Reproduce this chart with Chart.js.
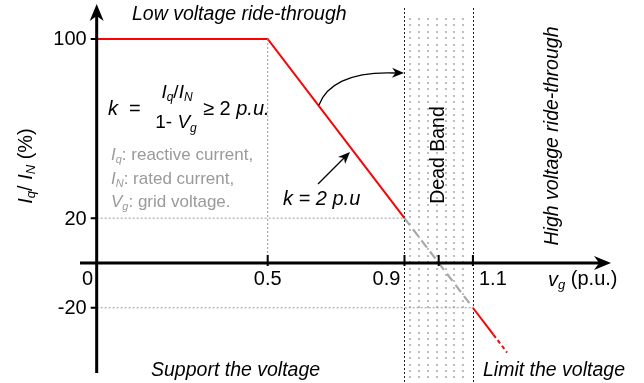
<!DOCTYPE html>
<html>
<head>
<meta charset="utf-8">
<script src="https://cdn.jsdelivr.net/npm/chart.js@4.4.1/dist/chart.umd.min.js"></script>
<style>
  html, body { margin: 0; padding: 0; background: #fff; }
  #wrap { width: 644px; height: 383px; position: relative; }
</style>
</head>
<body>
<div id="wrap"><canvas id="lvrt"></canvas></div>
<script>
/* ---- data ---- */
const supportX = [0, 0.5, 0.9];
const supportY = [100, 100, 20];
const deadBandX = [0.9, 1.1];
const deadBandY = [20, -20];
const limitX = [1.1, 1.16];
const limitY = [-20, -32];
const limitDashX = [1.16, 1.2];
const limitDashY = [-32, -40];
const xTicks = [0.5, 0.9, 1.0, 1.1];
const xTickLabels = ['0.5', '0.9', '', '1.1'];
const yTicks = [100, 20, -20];
const yTickLabels = ['100', '20', '-20'];
const bandEdges = [0.9, 1.1];

const FONT = '"Liberation Sans", Arial, sans-serif';
const pts = (xs, ys) => xs.map((x, i) => ({ x, y: ys[i] }));

/* rich text helper: parts = [{t, f, dy, c}] */
function richWidth(ctx, parts) {
  let w = 0;
  parts.forEach(p => { ctx.font = p.f; w += ctx.measureText(p.t).width; });
  return w;
}
function drawRich(ctx, x, y, parts, align) {
  let cx = x;
  if (align === 'center') cx = x - richWidth(ctx, parts) / 2;
  else if (align === 'right') cx = x - richWidth(ctx, parts);
  parts.forEach(p => {
    ctx.font = p.f;
    ctx.fillStyle = p.c || '#000';
    ctx.fillText(p.t, cx, y + (p.dy || 0));
    cx += ctx.measureText(p.t).width;
  });
}

function arrowHead(ctx, x, y, ang, len, half) {
  ctx.save();
  ctx.translate(x, y);
  ctx.rotate(ang);
  ctx.beginPath();
  ctx.moveTo(0, 0);
  ctx.lineTo(-len, -half);
  ctx.lineTo(-len * 0.7, 0);
  ctx.lineTo(-len, half);
  ctx.closePath();
  ctx.fill();
  ctx.restore();
}

/* dead band + axes + annotations */
const decorPlugin = {
  id: 'decor',
  beforeDatasetsDraw(chart) {
    const ctx = chart.ctx;
    const sx = chart.scales.x;
    const x0 = sx.getPixelForValue(bandEdges[0]);
    const x1 = sx.getPixelForValue(bandEdges[1]);
    const top = 8, bottom = chart.height;
    ctx.save();
    // dotted fill
    ctx.fillStyle = '#bdbdbd';
    let row = 0;
    for (let yy = top + 10; yy < bottom; yy += 6.4, row++) {
      for (let xx = x0 + 5; xx < x1 - 3; xx += 8.8) {
        ctx.fillRect(Math.round(xx), Math.round(yy), 2, 2);
      }
    }
    // edges
    ctx.strokeStyle = '#222';
    ctx.lineWidth = 1;
    ctx.setLineDash([2, 2]);
    [x0, x1].forEach(x => {
      ctx.beginPath();
      ctx.moveTo(Math.round(x) + 0.5, top);
      ctx.lineTo(Math.round(x) + 0.5, bottom);
      ctx.stroke();
    });
    ctx.setLineDash([]);
    ctx.restore();
  },
  afterDatasetsDraw(chart) {
    const ctx = chart.ctx;
    const sx = chart.scales.x, sy = chart.scales.y;
    const ox = sx.getPixelForValue(0), oy = sy.getPixelForValue(0);
    ctx.save();
    ctx.fillStyle = '#000';
    ctx.strokeStyle = '#000';

    // axes
    ctx.lineWidth = 3;
    ctx.beginPath();
    ctx.moveTo(80, oy); ctx.lineTo(604, oy);
    ctx.moveTo(ox, 373); ctx.lineTo(ox, 11);
    ctx.stroke();
    arrowHead(ctx, 611, oy, 0, 17, 7);
    arrowHead(ctx, ox, 4, -Math.PI / 2, 17, 7);

    // ticks
    ctx.lineWidth = 2;
    ctx.beginPath();
    xTicks.forEach(v => {
      const x = sx.getPixelForValue(v);
      ctx.moveTo(x, oy - 8); ctx.lineTo(x, oy + 3);
    });
    yTicks.forEach(v => {
      const y = sy.getPixelForValue(v);
      ctx.moveTo(ox - 6, y); ctx.lineTo(ox, y);
    });
    ctx.stroke();

    // tick labels
    ctx.textBaseline = 'middle';
    ctx.font = '20px ' + FONT;
    ctx.textAlign = 'right';
    yTicks.forEach((v, i) => ctx.fillText(yTickLabels[i], ox - 10, sy.getPixelForValue(v) + 1));
    ctx.textAlign = 'center';
    ctx.fillText('0', ox - 9, oy + 17);
    xTicks.forEach((v, i) => {
      let x = sx.getPixelForValue(v);
      if (v === 0.9) x -= 18;
      if (v === 1.1) x += 20;
      ctx.fillText(xTickLabels[i], x, oy + 17);
    });
    ctx.textAlign = 'left';
    drawRich(ctx, 548, oy + 17, [
      { t: 'v', f: 'italic 20px ' + FONT },
      { t: 'g', f: 'italic 13px ' + FONT, dy: 5 },
      { t: ' (p.u.)', f: '20px ' + FONT }
    ]);

    // y axis title
    ctx.save();
    ctx.translate(26, 166);
    ctx.rotate(-Math.PI / 2);
    drawRich(ctx, 0, 0, [
      { t: 'I', f: 'italic 20px ' + FONT },
      { t: 'q', f: 'italic 13px ' + FONT, dy: 5 },
      { t: '/ ', f: '20px ' + FONT },
      { t: 'I', f: 'italic 20px ' + FONT },
      { t: 'N', f: 'italic 13px ' + FONT, dy: 5 },
      { t: ' (%)', f: '20px ' + FONT }
    ], 'center');
    ctx.restore();

    // region titles
    ctx.font = 'italic 19.5px ' + FONT;
    ctx.textAlign = 'left';
    ctx.fillText('Low voltage ride-through', 132, 15);
    ctx.fillText('Support the voltage', 151, 371);
    ctx.fillText('Limit the voltage', 483, 371);
    ctx.save();
    ctx.translate(553, 136);
    ctx.rotate(-Math.PI / 2);
    ctx.textAlign = 'center';
    ctx.fillText('High voltage ride-through', 0, 0);
    ctx.restore();
    ctx.save();
    ctx.translate(439, 155);
    ctx.rotate(-Math.PI / 2);
    ctx.textAlign = 'center';
    ctx.font = '19.5px ' + FONT;
    ctx.fillText('Dead Band', 0, 0);
    ctx.restore();

    // formula
    ctx.textAlign = 'left';
    drawRich(ctx, 108, 109, [
      { t: 'k', f: 'italic 20px ' + FONT },
      { t: '  =', f: '20px ' + FONT }
    ]);
    drawRich(ctx, 177, 93, [
      { t: 'I', f: 'italic 19px ' + FONT },
      { t: 'q', f: 'italic 12px ' + FONT, dy: 5 },
      { t: '/', f: '19px ' + FONT },
      { t: 'I', f: 'italic 19px ' + FONT },
      { t: 'N', f: 'italic 12px ' + FONT, dy: 5 }
    ], 'center');
    drawRich(ctx, 176, 123, [
      { t: '1- ', f: '19px ' + FONT },
      { t: 'V', f: 'italic 19px ' + FONT },
      { t: 'g', f: 'italic 12px ' + FONT, dy: 6 }
    ], 'center');
    drawRich(ctx, 203, 109, [
      { t: '\u2265 2 ', f: '20px ' + FONT },
      { t: 'p.u.', f: 'italic 20px ' + FONT }
    ]);

    // gray legend text
    const g = '#9a9a9a';
    drawRich(ctx, 111, 155, [
      { t: 'I', f: 'italic 17px ' + FONT, c: g },
      { t: 'q', f: 'italic 11px ' + FONT, dy: 5, c: g },
      { t: ': reactive current,', f: '17px ' + FONT, c: g }
    ]);
    drawRich(ctx, 111, 179, [
      { t: 'I', f: 'italic 17px ' + FONT, c: g },
      { t: 'N', f: 'italic 11px ' + FONT, dy: 5, c: g },
      { t: ': rated current,', f: '17px ' + FONT, c: g }
    ]);
    drawRich(ctx, 111, 202, [
      { t: 'V', f: 'italic 17px ' + FONT, c: g },
      { t: 'g', f: 'italic 11px ' + FONT, dy: 5, c: g },
      { t: ': grid voltage.', f: '17px ' + FONT, c: g }
    ]);

    // k = 2 p.u label
    ctx.fillStyle = '#000';
    ctx.font = 'italic 20px ' + FONT;
    ctx.fillText('k = 2 p.u', 283, 199);

    // arrows
    ctx.lineWidth = 1.3;
    ctx.beginPath();
    ctx.moveTo(319, 105);
    ctx.bezierCurveTo(326, 86, 348, 71, 396, 73);
    ctx.stroke();
    arrowHead(ctx, 404, 73, 0.03, 12, 5);
    ctx.beginPath();
    ctx.moveTo(318, 184);
    ctx.lineTo(344, 158);
    ctx.stroke();
    arrowHead(ctx, 350, 152, -Math.PI / 4, 12, 5);
    ctx.restore();
  }
};

const ctxEl = document.getElementById('lvrt');
new Chart(ctxEl, {
  type: 'scatter',
  data: {
    datasets: [
      { // dotted guides
        data: [{ x: 0, y: 20 }, { x: 0.9, y: 20 }],
        showLine: true, borderColor: '#9a9a9a', borderWidth: 1, borderDash: [2, 2], pointRadius: 0
      },
      {
        data: [{ x: 0, y: -20 }, { x: 1.1, y: -20 }],
        showLine: true, borderColor: '#9a9a9a', borderWidth: 1, borderDash: [2, 2], pointRadius: 0
      },
      {
        data: [{ x: 0.5, y: 100 }, { x: 0.5, y: 0 }],
        showLine: true, borderColor: '#9a9a9a', borderWidth: 1, borderDash: [2, 2], pointRadius: 0
      },
      {
        label: 'LVRT',
        data: pts(supportX, supportY),
        showLine: true, borderColor: '#ff0000', borderWidth: 2, pointRadius: 0, tension: 0
      },
      {
        label: 'Dead band',
        data: pts(deadBandX, deadBandY),
        showLine: true, borderColor: '#a8a8a8', borderWidth: 2.2, borderDash: [9, 5], pointRadius: 0
      },
      {
        label: 'HVRT',
        data: pts(limitX, limitY),
        showLine: true, borderColor: '#ff0000', borderWidth: 2, pointRadius: 0
      },
      {
        data: pts(limitDashX, limitDashY),
        showLine: true, borderColor: '#ff0000', borderWidth: 2, borderDash: [4, 3], pointRadius: 0
      }
    ]
  },
  options: {
    responsive: true, maintainAspectRatio: false, animation: false,
    layout: { padding: 0 },
    plugins: { legend: { display: false }, tooltip: { enabled: false } },
    scales: {
      x: { type: 'linear', display: false, min: -0.2827, max: 1.6003 },
      y: { type: 'linear', display: false, min: -53.6, max: 117.4 }
    }
  },
  plugins: [decorPlugin]
});
</script>
</body>
</html>
